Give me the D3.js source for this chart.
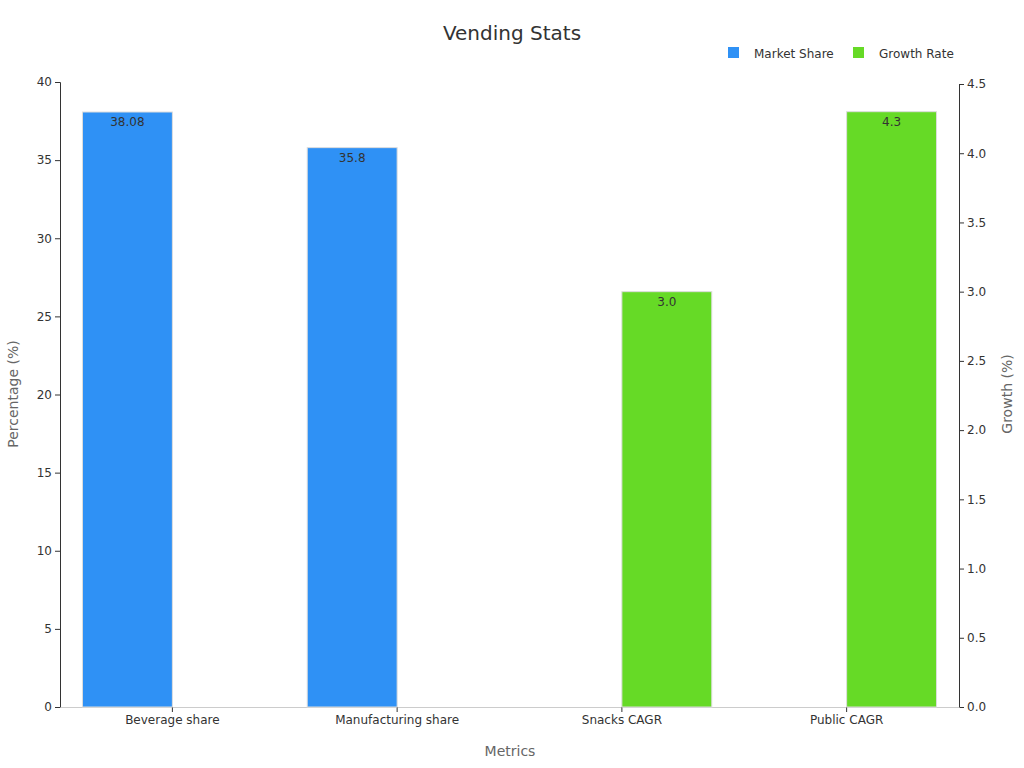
<!DOCTYPE html>
<html>
<head>
<meta charset="utf-8">
<script src="https://cdn.jsdelivr.net/npm/d3@7"></script>
<style>
  body { margin: 0; background: #fff; font-family: "DejaVu Sans", sans-serif; }
</style>
</head>
<body>
<svg id="chart" width="1024" height="768"></svg>
<script>
const categories = ["Beverage share", "Manufacturing share", "Snacks CAGR", "Public CAGR"];
const marketShare = [38.08, 35.8, null, null];
const growthRate = [null, null, 3.0, 4.3];
const leftTicks = [0, 5, 10, 15, 20, 25, 30, 35, 40];
const rightTicks = [0, 0.5, 1, 1.5, 2, 2.5, 3, 3.5, 4, 4.5];

const svg = d3.select("#chart");
const plotLeft = 60, plotRight = 959, plotTop = 82, plotBottom = 707;
const blue = "#2f91f5", green = "#66da26";

const x = d3.scaleBand().domain(categories).range([plotLeft, plotRight]);
const yL = d3.scaleLinear().domain([0, 40]).range([plotBottom, plotTop]);
const yR = d3.scaleLinear().domain([0, 4.5]).range([plotBottom, plotTop + 2]);

svg.append("text").attr("x", 512).attr("y", 40).attr("text-anchor", "middle")
    .attr("font-size", 20).attr("fill", "#333").text("Vending Stats");

// axes
const axL = svg.append("g").attr("transform", `translate(${plotLeft},0)`)
    .call(d3.axisLeft(yL).tickValues(leftTicks).tickSize(5));
const axR = svg.append("g").attr("transform", `translate(${plotRight},0)`)
    .call(d3.axisRight(yR).tickValues(rightTicks).tickSize(5));
const axX = svg.append("g").attr("transform", `translate(0,${plotBottom})`)
    .call(d3.axisBottom(x).tickSize(5).tickSizeOuter(0));
[axL, axR, axX].forEach(a => {
    a.selectAll("path, line").attr("stroke", "#333");
    a.selectAll("text").attr("font-size", 12).attr("fill", "#333")
        .attr("font-family", "DejaVu Sans");
});
axX.selectAll("path, line").attr("stroke", "#ccc");
axX.selectAll(".tick line").attr("stroke", "#333");

const bw = x.bandwidth() * 0.4;
function drawBars(vals, scale, color, offset, fmt) {
    categories.forEach((c, i) => {
        const v = vals[i];
        if (v == null) return;
        const cx = x(c) + x.bandwidth() / 2;
        const x0 = offset < 0 ? cx - bw : cx;
        svg.append("rect").attr("x", x0).attr("y", scale(v))
            .attr("width", bw).attr("height", plotBottom - scale(v))
            .attr("fill", color).attr("stroke", "#ddd").attr("stroke-width", 1);
        svg.append("text").attr("x", x0 + bw / 2).attr("y", scale(v) + 14)
            .attr("text-anchor", "middle").attr("font-size", 12).attr("fill", "#333")
            .text(fmt(v));
    });
}
drawBars(marketShare, yL, blue, -1, v => String(v));
drawBars(growthRate, yR, green, 1, v => v.toFixed(1));

// axis titles
svg.append("text").attr("x", 510).attr("y", 756).attr("text-anchor", "middle")
    .attr("font-size", 14).attr("fill", "#666").text("Metrics");
svg.append("text").attr("transform", `translate(18,394) rotate(-90)`)
    .attr("text-anchor", "middle").attr("font-size", 14).attr("fill", "#666").text("Percentage (%)");
svg.append("text").attr("transform", `translate(1012,394) rotate(-90)`)
    .attr("text-anchor", "middle").attr("font-size", 14).attr("fill", "#666").text("Growth (%)");

// legend
const legend = [["Market Share", blue, 728], ["Growth Rate", green, 853]];
legend.forEach(([t, c, lx]) => {
    svg.append("rect").attr("x", lx).attr("y", 47).attr("width", 11).attr("height", 11).attr("fill", c);
    svg.append("text").attr("x", lx + 26).attr("y", 58).attr("font-size", 12).attr("fill", "#333").text(t);
});
</script>
</body>
</html>
